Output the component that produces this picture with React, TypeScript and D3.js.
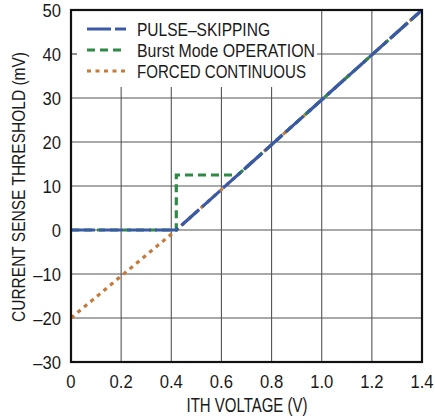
import React from "react";
import * as d3 from "d3";

const xTicks = [0, 0.2, 0.4, 0.6, 0.8, 1.0, 1.2, 1.4];
const yTicks = [-30, -20, -10, 0, 10, 20, 30, 40, 50];
const xTickLabels = ["0", "0.2", "0.4", "0.6", "0.8", "1.0", "1.2", "1.4"];
const yTickLabels = ["\u201330", "\u201320", "\u201310", "0", "10", "20", "30", "40", "50"];

const forcedX = [0, 0.42, 1.4];
const forcedY = [-20, 0, 50];
const burstX = [0, 0.42, 0.42, 0.665, 1.4];
const burstY = [0, 0, 12.5, 12.5, 50];
const pulseX = [0, 0.42, 1.4];
const pulseY = [0, 0, 50];

const seriesNames = ["PULSE\u2013SKIPPING", "Burst Mode OPERATION", "FORCED CONTINUOUS"];

const FONT = "'Liberation Sans Narrow', 'Liberation Sans', Arial, sans-serif";
const TXT = "#1a1a1a";

export default function App() {
  const W = 435, H = 419;
  const left = 71, right = 422, top = 10, bottom = 362;
  const x = d3.scaleLinear().domain([0, 1.4]).range([left, right]);
  const y = d3.scaleLinear().domain([-30, 50]).range([bottom, top]);
  const line = d3.line<[number, number]>().x(d => x(d[0])).y(d => y(d[1]));
  const pts = (xs: number[], ys: number[]) => xs.map((v, i) => [v, ys[i]] as [number, number]);

  const series = [
    { name: seriesNames[2], d: pts(forcedX, forcedY), color: "#c47a3a", dash: "4 4.5", legendIdx: 2, tl: 169 },
    { name: seriesNames[1], d: pts(burstX, burstY), color: "#2f8a48", dash: "8 5", legendIdx: 1, tl: 178 },
    { name: seriesNames[0], d: pts(pulseX, pulseY), color: "#3a5aa8", dash: "24 4", legendIdx: 0, tl: 133 },
  ];

  const legendX0 = 87, legendX1 = 126, legendTextX = 137;
  const legendRowY = (i: number) => 29 + i * 21;

  return (
    <svg width={W} height={H} style={{ position: "absolute", left: 0, top: 0, background: "#fff" }}>
      <rect x={0} y={0} width={W} height={H} fill="#fff" />
      {/* grid */}
      {xTicks.slice(1, -1).map((t, i) => (
        <line key={"gx" + i} x1={x(t)} x2={x(t)} y1={top} y2={bottom} stroke="#555" strokeWidth={1.1} />
      ))}
      {yTicks.slice(1, -1).map((t, i) => (
        <line key={"gy" + i} x1={left} x2={right} y1={y(t)} y2={y(t)} stroke="#555" strokeWidth={1.1} />
      ))}
      {/* legend background */}
      <rect x={left + 1} y={top + 1} width={245} height={76} fill="#fff" />
      {yTicks.filter(t => y(t) > top + 5 && y(t) < top + 77).map((t, i) => (
        <line key={"st" + i} x1={left} x2={left + 6} y1={y(t)} y2={y(t)} stroke="#333" strokeWidth={1.1} />
      ))}
      {/* series */}
      {series.map((s, i) => (
        <path key={"s" + i} d={line(s.d) || ""} fill="none" stroke={s.color} strokeWidth={3.2} strokeDasharray={s.dash} />
      ))}
      {/* frame */}
      <rect x={left} y={top} width={right - left} height={bottom - top} fill="none" stroke="#111" strokeWidth={2.2} />
      {/* legend */}
      {[...series].sort((a, b) => a.legendIdx - b.legendIdx).map((s, i) => (
        <g key={"lg" + i}>
          <line x1={legendX0} x2={legendX1} y1={legendRowY(i)} y2={legendRowY(i)} stroke={s.color} strokeWidth={3.2} strokeDasharray={s.dash} />
          <text x={legendTextX} y={legendRowY(i) + 7} fontFamily={FONT} fontSize={18.5} fill={TXT} textLength={s.tl} lengthAdjust="spacingAndGlyphs">{s.name}</text>
        </g>
      ))}
      {/* tick labels */}
      {yTicks.map((t, i) => (
        <text key={"yl" + i} transform={`translate(61,${y(t) + 6.5}) scale(0.9,1)`} textAnchor="end" fontFamily={FONT} fontSize={18.5} fill={TXT}>{yTickLabels[i]}</text>
      ))}
      {xTicks.map((t, i) => (
        <text key={"xl" + i} transform={`translate(${x(t)},387.5) scale(0.9,1)`} textAnchor="middle" fontFamily={FONT} fontSize={18.5} fill={TXT}>{xTickLabels[i]}</text>
      ))}
      {/* axis titles */}
      <text x={247} y={411.5} textAnchor="middle" fontFamily={FONT} fontSize={19.5} fill={TXT} textLength={121} lengthAdjust="spacingAndGlyphs">ITH VOLTAGE (V)</text>
      <text transform={`translate(25,${(top + bottom) / 2 + 1}) rotate(-90)`} textAnchor="middle" fontFamily={FONT} fontSize={18.5} fill={TXT} textLength={270} lengthAdjust="spacingAndGlyphs">CURRENT SENSE THRESHOLD (mV)</text>
    </svg>
  );
}
